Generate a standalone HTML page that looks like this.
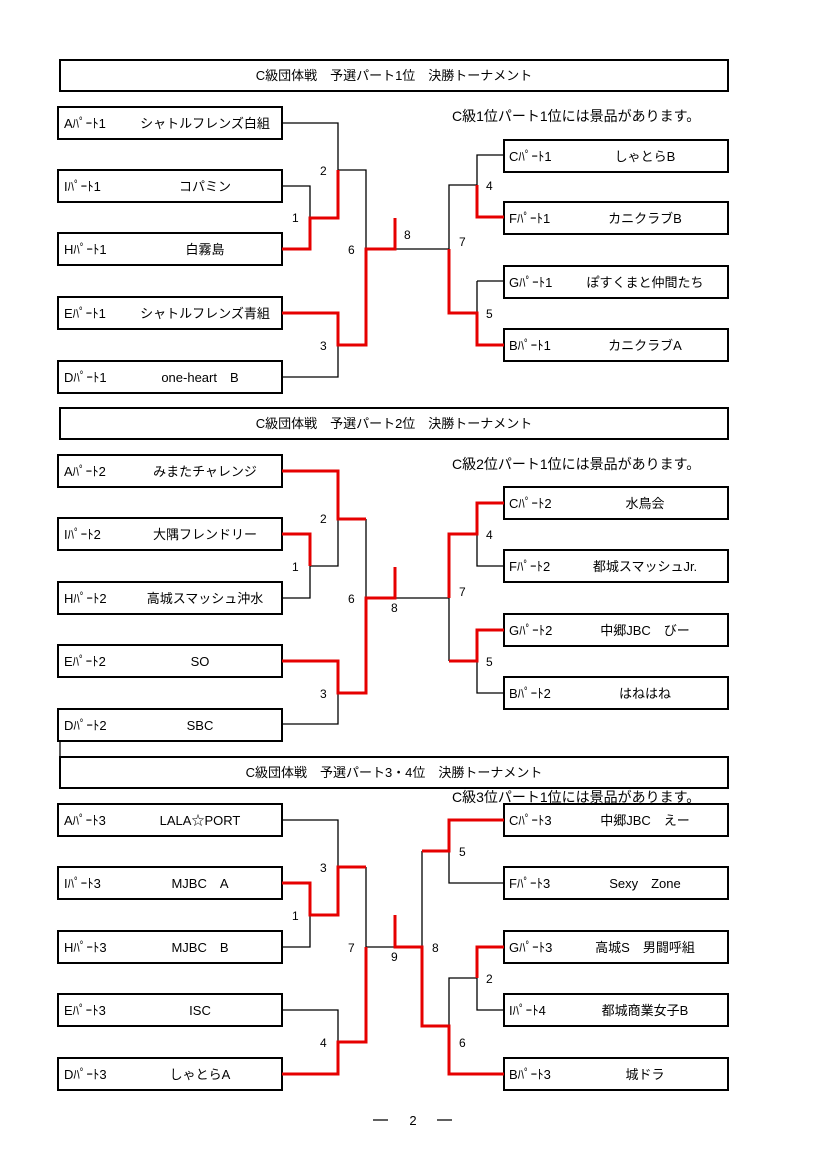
<!DOCTYPE html>
<html><head><meta charset="utf-8">
<style>
html,body{margin:0;padding:0;background:#fff;}
svg{display:block;}
text{font-family:"Liberation Sans","Noto Sans CJK JP",sans-serif;fill:#000;}
.b{fill:#fff;stroke:#000;stroke-width:2;}
.k{fill:none;stroke:#000;stroke-width:1.3;}
.r{fill:none;stroke:#e60000;stroke-width:3;}
.t{font-size:13px;}
.n{font-size:12px;}
.h{font-size:13px;}
</style></head><body>
<svg width="827" height="1169" viewBox="0 0 827 1169" xmlns="http://www.w3.org/2000/svg">

<!-- ===== Section 1 ===== -->
<rect class="b" x="60" y="60" width="668" height="31"/>
<text class="h" x="394" y="80" text-anchor="middle">C級団体戦　予選パート1位　決勝トーナメント</text>
<text x="452" y="121" style="font-size:14px">C級1位パート1位には景品があります。</text>

<g>
<rect class="b" x="58" y="107" width="224" height="32"/><text class="t" x="64" y="128">Aﾊﾟｰﾄ1</text><text class="t" x="205" y="128" text-anchor="middle">シャトルフレンズ白組</text>
<rect class="b" x="58" y="170" width="224" height="32"/><text class="t" x="64" y="191">Iﾊﾟｰﾄ1</text><text class="t" x="205" y="191" text-anchor="middle">コパミン</text>
<rect class="b" x="58" y="233" width="224" height="32"/><text class="t" x="64" y="254">Hﾊﾟｰﾄ1</text><text class="t" x="205" y="254" text-anchor="middle">白霧島</text>
<rect class="b" x="58" y="297" width="224" height="32"/><text class="t" x="64" y="318">Eﾊﾟｰﾄ1</text><text class="t" x="205" y="318" text-anchor="middle">シャトルフレンズ青組</text>
<rect class="b" x="58" y="361" width="224" height="32"/><text class="t" x="64" y="382">Dﾊﾟｰﾄ1</text><text class="t" x="200" y="382" text-anchor="middle">one-heart　B</text>

<rect class="b" x="504" y="140" width="224" height="32"/><text class="t" x="509" y="161">Cﾊﾟｰﾄ1</text><text class="t" x="645" y="161" text-anchor="middle">しゃとらB</text>
<rect class="b" x="504" y="202" width="224" height="32"/><text class="t" x="509" y="223">Fﾊﾟｰﾄ1</text><text class="t" x="645" y="223" text-anchor="middle">カニクラブB</text>
<rect class="b" x="504" y="266" width="224" height="32"/><text class="t" x="509" y="287">Gﾊﾟｰﾄ1</text><text class="t" x="645" y="287" text-anchor="middle">ぽすくまと仲間たち</text>
<rect class="b" x="504" y="329" width="224" height="32"/><text class="t" x="509" y="350">Bﾊﾟｰﾄ1</text><text class="t" x="645" y="350" text-anchor="middle">カニクラブA</text>
</g>
<path class="k" d="M282 123H338V170H366V249"/>
<path class="k" d="M282 186H310V218"/>
<path class="k" d="M282 377H338V345"/>
<path class="k" d="M395 249H449V185H477V155H504"/>
<path class="k" d="M477 281H504M477 281V313"/>
<path class="r" d="M282 249H310V218H338V170"/>
<path class="r" d="M282 313H338V345H366V249H395V218"/>
<path class="r" d="M449 249V313H477V345H504"/>
<path class="r" d="M477 185V217H504"/>
<text class="n" x="320" y="175">2</text><text class="n" x="292" y="222">1</text>
<text class="n" x="348" y="254">6</text><text class="n" x="320" y="350">3</text>
<text class="n" x="404" y="239">8</text><text class="n" x="459" y="246">7</text>
<text class="n" x="486" y="190">4</text><text class="n" x="486" y="318">5</text>

<!-- ===== Section 2 ===== -->
<rect class="b" x="60" y="408" width="668" height="31"/>
<text class="h" x="394" y="428" text-anchor="middle">C級団体戦　予選パート2位　決勝トーナメント</text>
<text x="452" y="469" style="font-size:14px">C級2位パート1位には景品があります。</text>

<rect class="b" x="58" y="455" width="224" height="32"/><text class="t" x="64" y="476">Aﾊﾟｰﾄ2</text><text class="t" x="205" y="476" text-anchor="middle">みまたチャレンジ</text>
<rect class="b" x="58" y="518" width="224" height="32"/><text class="t" x="64" y="539">Iﾊﾟｰﾄ2</text><text class="t" x="205" y="539" text-anchor="middle">大隅フレンドリー</text>
<rect class="b" x="58" y="582" width="224" height="32"/><text class="t" x="64" y="603">Hﾊﾟｰﾄ2</text><text class="t" x="205" y="603" text-anchor="middle">高城スマッシュ沖水</text>
<rect class="b" x="58" y="645" width="224" height="32"/><text class="t" x="64" y="666">Eﾊﾟｰﾄ2</text><text class="t" x="200" y="666" text-anchor="middle">SO</text>
<rect class="b" x="58" y="709" width="224" height="32"/><text class="t" x="64" y="730">Dﾊﾟｰﾄ2</text><text class="t" x="200" y="730" text-anchor="middle">SBC</text>
<path class="k" d="M60 741V758"/>

<rect class="b" x="504" y="487" width="224" height="32"/><text class="t" x="509" y="508">Cﾊﾟｰﾄ2</text><text class="t" x="645" y="508" text-anchor="middle">水鳥会</text>
<rect class="b" x="504" y="550" width="224" height="32"/><text class="t" x="509" y="571">Fﾊﾟｰﾄ2</text><text class="t" x="645" y="571" text-anchor="middle">都城スマッシュJr.</text>
<rect class="b" x="504" y="614" width="224" height="32"/><text class="t" x="509" y="635">Gﾊﾟｰﾄ2</text><text class="t" x="645" y="635" text-anchor="middle">中郷JBC　びー</text>
<rect class="b" x="504" y="677" width="224" height="32"/><text class="t" x="509" y="698">Bﾊﾟｰﾄ2</text><text class="t" x="645" y="698" text-anchor="middle">はねはね</text>

<path class="k" d="M282 598H310V566H338V519"/>
<path class="k" d="M366 519V598"/>
<path class="k" d="M282 724H338V693"/>
<path class="k" d="M395 598H449V661"/>
<path class="k" d="M477 534V566H504"/>
<path class="k" d="M477 661V693H504"/>
<path class="r" d="M282 471H338V519H366"/>
<path class="r" d="M282 534H310V566"/>
<path class="r" d="M282 661H338V693H366V598H395V567"/>
<path class="r" d="M449 598V534H477V503H504"/>
<path class="r" d="M449 661H477V630H504"/>
<text class="n" x="320" y="523">2</text><text class="n" x="292" y="571">1</text>
<text class="n" x="348" y="603">6</text><text class="n" x="320" y="698">3</text>
<text class="n" x="391" y="612">8</text><text class="n" x="459" y="596">7</text>
<text class="n" x="486" y="539">4</text><text class="n" x="486" y="666">5</text>

<!-- ===== Section 3 ===== -->
<rect class="b" x="60" y="757" width="668" height="31"/>
<text class="h" x="394" y="777" text-anchor="middle">C級団体戦　予選パート3・4位　決勝トーナメント</text>
<text x="452" y="802" style="font-size:14px">C級3位パート1位には景品があります。</text>

<rect class="b" x="58" y="804" width="224" height="32"/><text class="t" x="64" y="825">Aﾊﾟｰﾄ3</text><text class="t" x="200" y="825" text-anchor="middle">LALA☆PORT</text>
<rect class="b" x="58" y="867" width="224" height="32"/><text class="t" x="64" y="888">Iﾊﾟｰﾄ3</text><text class="t" x="200" y="888" text-anchor="middle">MJBC　A</text>
<rect class="b" x="58" y="931" width="224" height="32"/><text class="t" x="64" y="952">Hﾊﾟｰﾄ3</text><text class="t" x="200" y="952" text-anchor="middle">MJBC　B</text>
<rect class="b" x="58" y="994" width="224" height="32"/><text class="t" x="64" y="1015">Eﾊﾟｰﾄ3</text><text class="t" x="200" y="1015" text-anchor="middle">ISC</text>
<rect class="b" x="58" y="1058" width="224" height="32"/><text class="t" x="64" y="1079">Dﾊﾟｰﾄ3</text><text class="t" x="200" y="1079" text-anchor="middle">しゃとらA</text>

<rect class="b" x="504" y="804" width="224" height="32"/><text class="t" x="509" y="825">Cﾊﾟｰﾄ3</text><text class="t" x="645" y="825" text-anchor="middle">中郷JBC　えー</text>
<rect class="b" x="504" y="867" width="224" height="32"/><text class="t" x="509" y="888">Fﾊﾟｰﾄ3</text><text class="t" x="645" y="888" text-anchor="middle">Sexy　Zone</text>
<rect class="b" x="504" y="931" width="224" height="32"/><text class="t" x="509" y="952">Gﾊﾟｰﾄ3</text><text class="t" x="645" y="952" text-anchor="middle">高城S　男闘呼組</text>
<rect class="b" x="504" y="994" width="224" height="32"/><text class="t" x="509" y="1015">Iﾊﾟｰﾄ4</text><text class="t" x="645" y="1015" text-anchor="middle">都城商業女子B</text>
<rect class="b" x="504" y="1058" width="224" height="32"/><text class="t" x="509" y="1079">Bﾊﾟｰﾄ3</text><text class="t" x="645" y="1079" text-anchor="middle">城ドラ</text>

<path class="k" d="M282 820H338V867"/>
<path class="k" d="M282 947H310V915"/>
<path class="k" d="M366 867V947H395"/>
<path class="k" d="M282 1010H338V1042"/>
<path class="k" d="M422 947V851"/>
<path class="k" d="M449 851V883H504"/>
<path class="k" d="M449 1026V978H477V1010H504"/>
<path class="r" d="M282 883H310V915H338V867H366"/>
<path class="r" d="M282 1074H338V1042H366V947"/>
<path class="r" d="M395 915V947H422V1026H449V1074H504"/>
<path class="r" d="M422 851H449V820H504"/>
<path class="r" d="M477 978V947H504"/>
<text class="n" x="320" y="872">3</text><text class="n" x="292" y="920">1</text>
<text class="n" x="348" y="952">7</text><text class="n" x="320" y="1047">4</text>
<text class="n" x="391" y="961">9</text><text class="n" x="432" y="952">8</text>
<text class="n" x="459" y="856">5</text><text class="n" x="486" y="983">2</text>
<text class="n" x="459" y="1047">6</text>

<!-- footer -->
<path d="M373 1120H388M437 1120H452" stroke="#000" stroke-width="1.2"/>
<text x="413" y="1125" style="font-size:13px" text-anchor="middle">2</text>
</svg>
</body></html>
